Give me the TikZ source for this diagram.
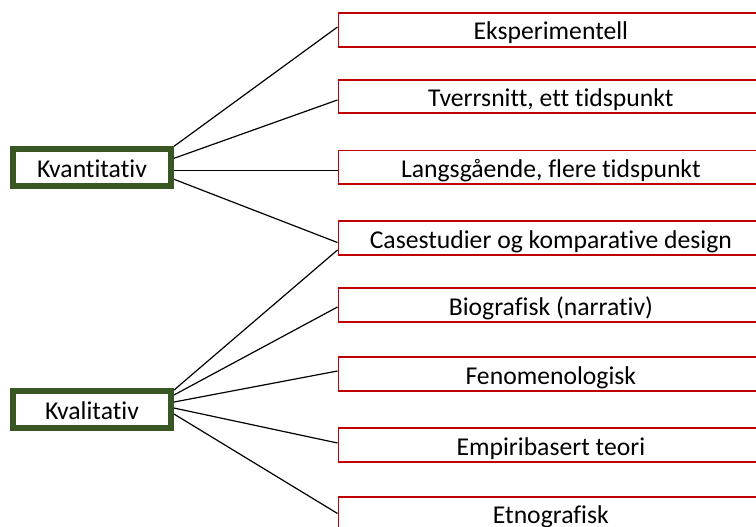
\documentclass[tikz,border=0pt]{standalone}
\usepackage{fontspec}
\setmainfont{Carlito}[Ligatures=NoCommon]
\usepackage{tikz}
\definecolor{morkgronn}{HTML}{385723}
\definecolor{morkrod}{HTML}{C00000}
\tikzset{
  hovedboks/.style={draw=morkgronn, line width=4.5pt, inner sep=0pt,
    text height=15pt, text depth=0pt,
    minimum width=118.5pt, minimum height=27.75pt},
  designboks/.style={draw=morkrod, line width=1.3pt, inner sep=0pt, anchor=west,
    text height=15pt, text depth=0pt,
    minimum width=318.75pt, minimum height=25pt},
  linje/.style={line width=0.9pt, black}
}
\begin{document}
\begin{tikzpicture}[x=0.75pt, y=-0.75pt, font=\fontsize{19.25}{23}\selectfont]
            \useasboundingbox (0,0) rectangle (756,527); %bildeflate
            \node[hovedboks] (kvant) at (92,167.3) {Kvantitativ};
            \node[hovedboks] (kval) at (92,409.5) {Kvalitativ};
            \node[designboks] (eksp) at (337.5,30) {Eksperimentell};
            \node[designboks] (tverr) at (337.5,96.5) {Tverrsnitt, ett tidspunkt};
            \node[designboks] (langs) at (337.5,167.3) {Langsgående, flere tidspunkt};
            \node[designboks] (case) at (337.5,238) {Casestudier og komparative design};
            \node[designboks] (bio) at (337.5,305) {Biografisk (narrativ)};
            \node[designboks] (feno) at (337.5,374) {Fenomenologisk};
            \node[designboks] (empiri) at (337.5,445) {Empiribasert teori};
            \node[designboks] (etno) at (337.5,513.5) {Etnografisk};
            \draw[linje] ([yshift=15.75pt]kvant.east) -- ([yshift=2.25pt]eksp.west);
            \draw[linje] ([yshift=6.75pt]kvant.east) -- ([yshift=-2.6pt]tverr.west);
            \draw[linje] ([yshift=-2.25pt]kvant.east) -- ([yshift=-2.25pt]langs.west);
            \draw[linje] ([yshift=-9pt]kvant.east) -- ([yshift=-3.4pt]case.west);
            \draw[linje] ([yshift=14.6pt]kval.east) -- ([yshift=-9pt]case.west);
            \draw[linje] ([yshift=10.9pt]kval.east) -- ([yshift=-1.5pt]bio.west);
            \draw[linje] ([yshift=5.6pt]kval.east) -- ([yshift=2.25pt]feno.west);
            \draw[linje] ([yshift=1.1pt]kval.east) -- ([yshift=1.5pt]empiri.west);
            \draw[linje] ([yshift=-3.4pt]kval.east) -- (etno.west);
        \end{tikzpicture}
\end{document}
